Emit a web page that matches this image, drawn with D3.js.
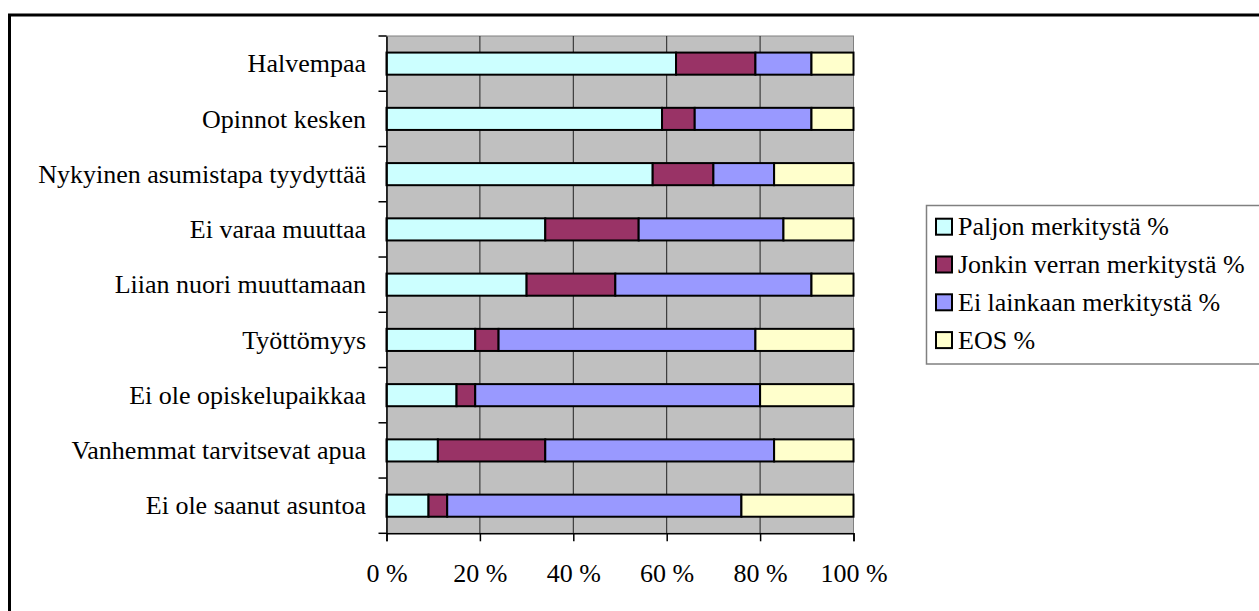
<!DOCTYPE html>
<html>
<head>
<meta charset="utf-8">
<script src="https://cdn.jsdelivr.net/npm/d3@7"></script>
<style>
  body { margin: 0; background: #fff; }
  text { font-family: "Liberation Serif", "Times New Roman", serif; fill: #000; }
</style>
</head>
<body>
<svg id="chart" width="1259" height="611"></svg>
<script>
// categories, top to bottom
const categories = ['Halvempaa', 'Opinnot kesken', 'Nykyinen asumistapa tyydyttää', 'Ei varaa muuttaa',
  'Liian nuori muuttamaan', 'Työttömyys', 'Ei ole opiskelupaikkaa', 'Vanhemmat tarvitsevat apua', 'Ei ole saanut asuntoa'];
// series values (%)
const paljon     = [62, 59, 57, 34, 30, 19, 15, 11, 9];
const jonkin     = [17, 7, 13, 20, 19, 5, 4, 23, 4];
const eiLainkaan = [12, 25, 13, 31, 42, 55, 61, 49, 63];
const eos        = [9, 9, 17, 15, 9, 21, 20, 17, 24];
const seriesNames = ['Paljon merkitystä %', 'Jonkin verran merkitystä %', 'Ei lainkaan merkitystä %', 'EOS %'];
const seriesColors = ['#CCFFFF', '#993366', '#9999FF', '#FFFFCC'];
const xTicks = [0, 0.2, 0.4, 0.6, 0.8, 1];

const svg = d3.select('#chart');
const plot = { left: 386.5, right: 853.5, top: 36, bottom: 533.3 };

//Outer chart frame (runs off the page on right and bottom)
svg.append('rect')
  .attr('x', 9.5).attr('y', 15)
  .attr('width', 1300).attr('height', 700)
  .attr('fill', '#fff').attr('stroke', '#000').attr('stroke-width', 3);

const rows = categories.map(function(c, i) {
  return { cat: c, s0: paljon[i], s1: jonkin[i], s2: eiLainkaan[i], s3: eos[i] };
});
const stacked = d3.stack().keys(['s0', 's1', 's2', 's3']).offset(d3.stackOffsetExpand)(rows);

const xScale = d3.scaleLinear().domain([0, 1]).range([plot.left, plot.right]);
const yScale = d3.scaleBand().domain(categories).range([plot.top, plot.bottom]).paddingInner(0.6).paddingOuter(0.3);
const yBand = d3.scaleBand().domain(categories).range([plot.top, plot.bottom]);

//Plot background
svg.append('rect')
  .attr('x', plot.left).attr('y', plot.top)
  .attr('width', plot.right - plot.left).attr('height', plot.bottom - plot.top)
  .attr('fill', '#C0C0C0').attr('stroke', '#808080').attr('stroke-width', 1);

//Gridlines
svg.append('g').selectAll('line')
  .data(xTicks.slice(1, -1))
  .enter().append('line')
  .attr('x1', function(d) { return xScale(d); }).attr('x2', function(d) { return xScale(d); })
  .attr('y1', plot.top).attr('y2', plot.bottom)
  .attr('stroke', '#222').attr('stroke-width', 1);

//Bars
const groups = svg.append('g').selectAll('g')
  .data(stacked)
  .enter().append('g')
  .attr('fill', function(d, i) { return seriesColors[i]; });
groups.selectAll('rect')
  .data(function(d) { return d; })
  .enter().append('rect')
  .attr('x', function(d) { return xScale(d[0]); })
  .attr('width', function(d) { return xScale(d[1]) - xScale(d[0]); })
  .attr('y', function(d) { return yScale(d.data.cat); })
  .attr('height', yScale.bandwidth())
  .attr('stroke', '#000').attr('stroke-width', 2);

//Axes
const xAxis = d3.axisBottom(xScale).tickValues(xTicks).tickSize(8)
  .tickFormat(function(d) { return Math.round(d * 100) + ' %'; });
const gx = svg.append('g').attr('transform', 'translate(0,' + plot.bottom + ')').call(xAxis);
gx.select('.domain').attr('stroke', '#000').attr('stroke-width', 1.5);
gx.selectAll('.tick line').attr('stroke', '#000').attr('stroke-width', 1.5);
gx.selectAll('.tick text').attr('y', 0).attr('dy', 0)
  .attr('transform', 'translate(0,48.5)')
  .style('font-size', '26px').style('font-family', '"Liberation Serif", serif').attr('fill', '#000');

const yAxis = d3.axisLeft(yBand).tickSize(0).tickFormat('');
const gy = svg.append('g').attr('transform', 'translate(' + plot.left + ',0)').call(yAxis);
gy.select('.domain').attr('stroke', '#000').attr('stroke-width', 1.5);
//tick marks between categories
gy.append('g').selectAll('line')
  .data(categories.map(function(c) { return yBand(c); }).concat([plot.bottom]))
  .enter().append('line')
  .attr('x1', -8).attr('x2', 0)
  .attr('y1', function(d) { return d; }).attr('y2', function(d) { return d; })
  .attr('stroke', '#000').attr('stroke-width', 1.5);
gy.append('g').selectAll('text')
  .data(categories)
  .enter().append('text')
  .attr('x', -20.5)
  .attr('y', function(d) { return yBand(d) + yBand.bandwidth() / 2 + 8.7; })
  .attr('text-anchor', 'end')
  .style('font-size', '26px')
  .text(function(d) { return d; });

//Legend
const legend = svg.append('g');
legend.append('rect')
  .attr('x', 926.5).attr('y', 205.5).attr('width', 400).attr('height', 158.5)
  .attr('fill', '#fff').attr('stroke', '#808080').attr('stroke-width', 1.5);
const items = legend.selectAll('g.item')
  .data(seriesNames)
  .enter().append('g').attr('class', 'item')
  .attr('transform', function(d, i) { return 'translate(935,' + (226.7 + i * 37.8) + ')'; });
items.append('rect')
  .attr('x', 1).attr('y', -8).attr('width', 16).attr('height', 16)
  .attr('fill', function(d, i) { return seriesColors[i]; })
  .attr('stroke', '#000').attr('stroke-width', 2);
items.append('text')
  .attr('x', 23).attr('y', 8.5)
  .style('font-size', '26px')
  .text(function(d) { return d; });
</script>
</body>
</html>
